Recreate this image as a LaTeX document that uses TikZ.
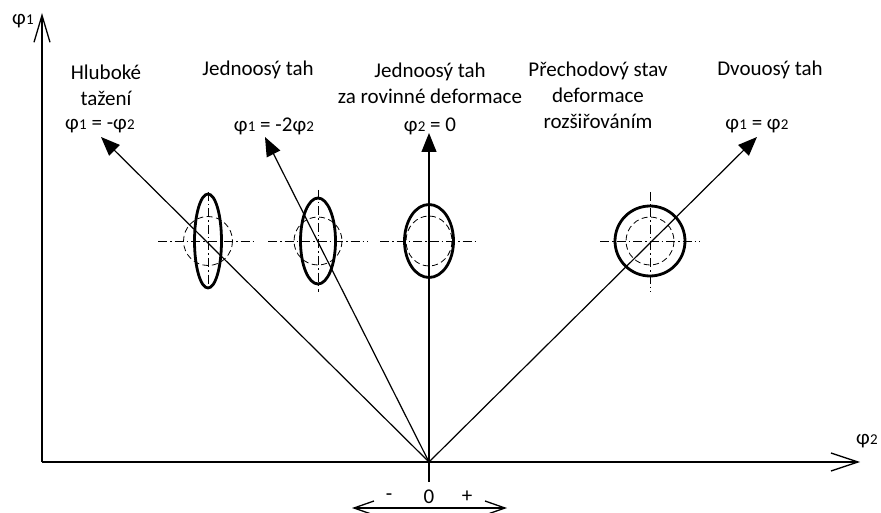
\documentclass[tikz,border=0pt]{standalone}
\usepackage{fontspec}
\setmainfont{Carlito}
\usetikzlibrary{arrows.meta}
\newcommand\phs[1]{φ\kern0.3pt{\fontsize{15pt}{15pt}\selectfont #1}}
\begin{document}
\begin{tikzpicture}[x=1pt,y=-1pt,
  axis/.style={line width=1.3pt},
  ray/.style={line width=1.2pt,-{Triangle[length=19pt,width=15pt]}},
  solidshape/.style={line width=2.8pt},
  ghost/.style={line width=0.8pt,dash pattern=on 6pt off 3.5pt},
  cline/.style={line width=0.8pt,dash pattern=on 9pt off 3pt on 1.5pt off 3pt},
  lbl/.style={font=\fontsize{21pt}{26pt}\selectfont, align=center, inner sep=0pt}]
\path[use as bounding box] (0,0) rectangle (881,513);
% axes
\coordinate (O) at (429,462);
\coordinate (Y) at (42,13);
\coordinate (Yb) at (42,462);
\coordinate (X) at (860,462);
\coordinate (Dn) at (429,482);
\coordinate (DL) at (352,508);
\coordinate (DR) at (507,508);
\draw[axis, -{Straight Barb[length=27pt,width=16pt]}] (Yb) -- (Y);
\draw[axis, -{Straight Barb[length=27pt,width=18pt]}] (Yb) -- (X);
\draw[axis] (O) -- (Dn);
\draw[axis, {Straight Barb[length=20pt,width=14pt]}-{Straight Barb[length=20pt,width=14pt]}] (DL) -- (DR);
\node[lbl] (phy) at (23,21) {\phs{1}};
\node[lbl] (phx) at (867,441) {\phs{2}};
\node[lbl] (minus) at (389,497) {-};
\node[lbl] (zero) at (429,497) {0};
\node[lbl] (plus) at (467,497) {+};
% centres
\coordinate (E1) at (208,241);
\coordinate (E2) at (318,241);
\coordinate (E3) at (429,241);
\coordinate (E4) at (650,241);
% centre lines
\draw[cline] (158,241) -- (257,241);
\draw[cline] (208,192) -- (208,290);
\draw[cline] (268,241) -- (368,241);
\draw[cline] (318,190) -- (318,292);
\draw[cline] (380,241) -- (478,241);
\draw[cline] (600,241) -- (700,241);
\draw[cline] (650,192) -- (650,292);
% reference circles
\draw[ghost] (E1) circle[radius=24.5];
\draw[ghost] (E2) circle[radius=24];
\draw[ghost] (E3) ellipse[x radius=23, y radius=25];
\draw[ghost] (E4) circle[radius=24];
% deformed shapes
\draw[solidshape] (E1) ellipse[x radius=13.5, y radius=47];
\draw[solidshape] (E2) ellipse[x radius=17.5, y radius=43];
\draw[solidshape] (E3) ellipse[x radius=24.5, y radius=36.5];
\draw[solidshape] (E4) circle[radius=35];
% rays
\coordinate (T1) at (101,137);
\coordinate (T2) at (265,137);
\coordinate (T3) at (429,133);
\coordinate (T4) at (757,137);
\draw[ray] (O) -- (T1);
\draw[ray] (O) -- (T2);
\draw[ray] (O) -- (T3);
\draw[ray] (O) -- (T4);
% labels
\node[lbl] (h1) at (106,85) {Hluboké\\tažení};
\node[lbl] (f1) at (100,126) {\phs{1} = -\phs{2}};
\node[lbl] (h2) at (258,70) {Jednoosý tah};
\node[lbl] (f2) at (274,126) {\phs{1} = -2\phs{2}};
\node[lbl] (h3) at (430,83) {Jednoosý tah\\za rovinné deformace};
\node[lbl] (f3) at (430,126) {\phs{2} = 0};
\node[lbl] (h4) at (598,95) {Přechodový stav\\deformace\\rozšiřováním};
\node[lbl] (h5) at (770,70) {Dvouosý tah};
\node[lbl] (f5) at (757,126) {\phs{1} = \phs{2}};
\end{tikzpicture}
\end{document}
